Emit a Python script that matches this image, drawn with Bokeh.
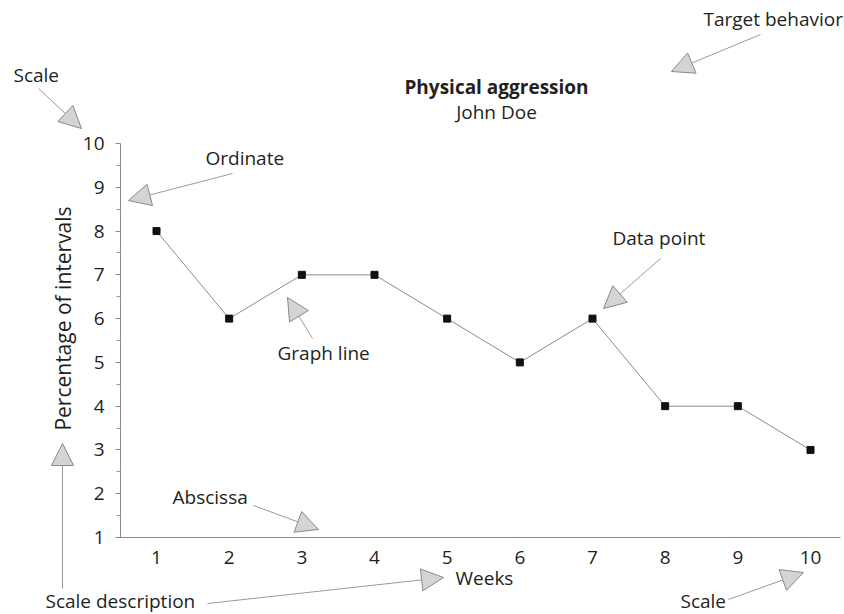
import math
from bokeh.plotting import figure
from bokeh.models import (LinearAxis, FixedTicker, Label, Arrow, NormalHead, Range1d)
from bokeh.embed import file_html
from bokeh.resources import INLINE

# ---- data ----
weeks = [1, 2, 3, 4, 5, 6, 7, 8, 9, 10]
percent = [8, 6, 7, 7, 6, 5, 6, 4, 4, 3]
x_ticks = [1, 2, 3, 4, 5, 6, 7, 8, 9, 10]
y_ticks = [1, 2, 3, 4, 5, 6, 7, 8, 9, 10]
y_minor = [1.5, 2.5, 3.5, 4.5, 5.5, 6.5, 7.5, 8.5, 9.5]
title_text = "Physical aggression"
subtitle_text = "John Doe"
x_label = "Weeks"
y_label = "Percentage of intervals"

# ---- layout ----
W, H = 844, 614
X0, X1 = -1.1468, 10.4679
Y0, Y1 = -0.7588, 13.2665
FONT = "Open Sans"
TXT = "#231f20"
FS = "19px"


def dx(px):
    return X0 + px * (X1 - X0) / W


def dy(py):
    return Y1 - py * (Y1 - Y0) / H


p = figure(width=W, height=H, output_backend="svg", toolbar_location=None,
           x_range=Range1d(X0, X1), y_range=Range1d(Y0, Y1),
           x_axis_type=None, y_axis_type=None, min_border=0)
p.outline_line_color = None
p.xgrid.visible = False
p.ygrid.visible = False
p.background_fill_color = "white"

# axes placed inside the frame
xa = LinearAxis(ticker=FixedTicker(ticks=x_ticks), fixed_location=1,
                bounds=(dx(117), dx(840)))
xa.axis_line_color = "#8a8a8a"
xa.major_tick_line_color = None
xa.minor_tick_line_color = None
xa.major_label_text_font = FONT
xa.major_label_text_font_size = FS
xa.major_label_text_color = TXT
xa.major_label_standoff = 7
p.add_layout(xa, "below")

ya = LinearAxis(ticker=FixedTicker(ticks=y_ticks, minor_ticks=y_minor),
                fixed_location=dx(120), bounds=(1, 10))
ya.axis_line_color = "#8a8a8a"
ya.major_tick_line_color = "#8a8a8a"
ya.minor_tick_line_color = "#9a9a9a"
ya.major_tick_out = 5
ya.major_tick_in = 0
ya.minor_tick_out = 4
ya.minor_tick_in = 0
ya.major_label_text_font = FONT
ya.major_label_text_font_size = FS
ya.major_label_text_color = TXT
ya.major_label_standoff = 11
p.add_layout(ya, "left")

# y axis description (placed as in the reference, centred near 6)
p.add_layout(Label(x=dx(62), y=dy(318), text=y_label, text_font=FONT,
                   text_font_size="21px", text_color=TXT, angle=math.pi / 2,
                   text_align="center", text_baseline="middle"))

# data
p.line(weeks, percent, line_color="#8c8c8c", line_width=1)
p.scatter(weeks, percent, marker="square", size=7, fill_color="#111111",
          line_color="#111111")

# titles
p.add_layout(Label(x=dx(496), y=dy(86), text=title_text, text_font=FONT,
                   text_font_size=FS, text_font_style="bold", text_color=TXT,
                   text_align="center", text_baseline="middle"))
p.add_layout(Label(x=dx(496), y=dy(111), text=subtitle_text, text_font=FONT,
                   text_font_size=FS, text_color=TXT,
                   text_align="center", text_baseline="middle"))

# annotation texts
notes = [
    ("Scale", 13, 74),
    ("Ordinate", 205, 157),
    ("Target behavior", 703, 18),
    ("Data point", 612, 237),
    ("Graph line", 277, 352),
    ("Abscissa", 172, 496),
    ("Scale description", 45, 600),
    (x_label, 455, 577),
    ("Scale", 680, 600),
]
for t, px, py in notes:
    p.add_layout(Label(x=dx(px), y=dy(py), text=t, text_font=FONT,
                       text_font_size=FS, text_color=TXT,
                       text_align="left", text_baseline="middle"))

# annotation arrows (start -> tip)
arrows = [
    ((38, 88), (81, 128)),
    ((232, 173), (128, 200)),
    ((760, 34), (671, 71)),
    ((660, 258), (603, 308)),
    ((312, 338), (287, 297)),
    ((253, 505), (318, 529)),
    ((62, 588), (62, 443)),
    ((207, 603), (443, 577)),
    ((728, 599), (803, 572)),
]
for (sx, sy), (ex, ey) in arrows:
    p.add_layout(Arrow(x_start=dx(sx), y_start=dy(sy), x_end=dx(ex), y_end=dy(ey),
                       line_color="#9a9a9a", line_width=1,
                       end=NormalHead(size=22, fill_color="#d4d4d4",
                                      line_color="#8a8a8a", line_width=1)))

open("out.html", "w").write(file_html(p, INLINE))
